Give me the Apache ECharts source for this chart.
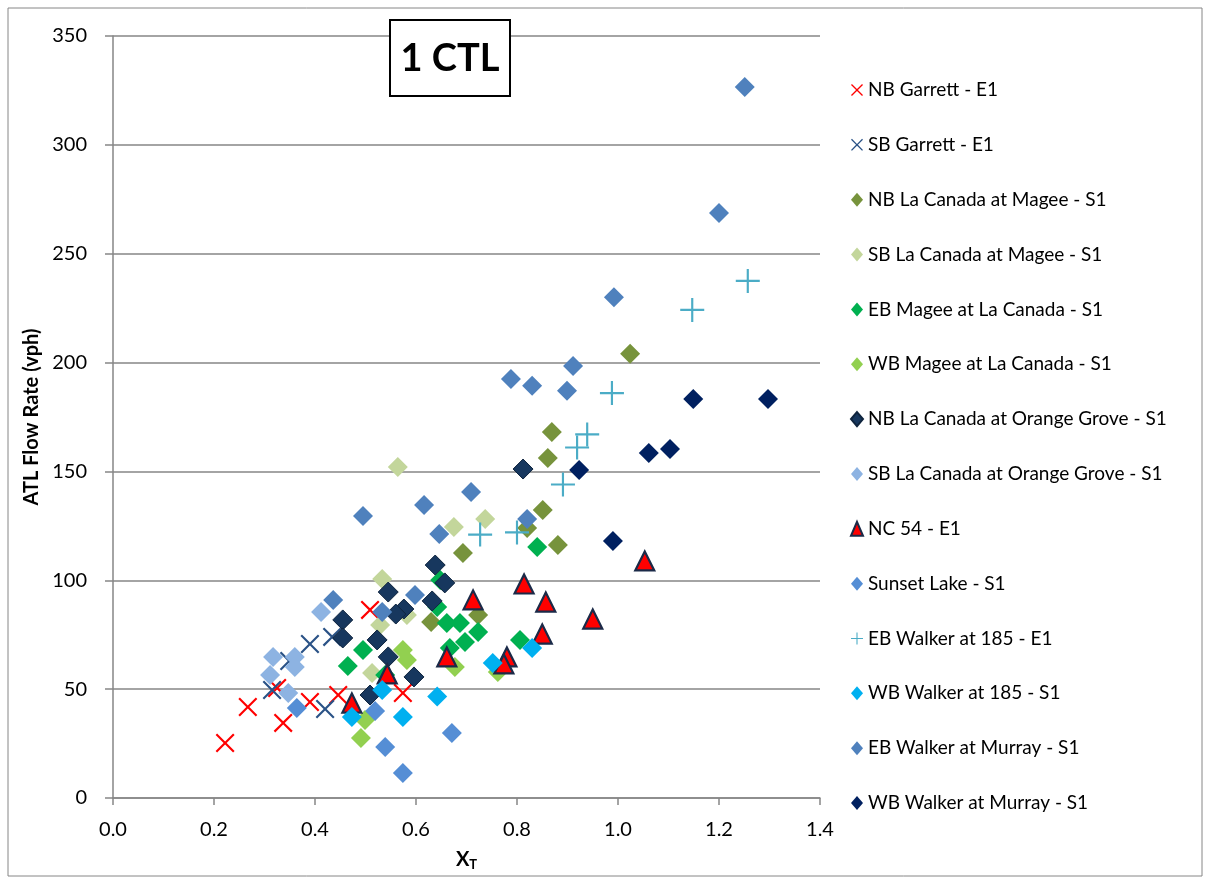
<!DOCTYPE html>
<html>
<head>
<meta charset="utf-8">
<script src="https://cdn.jsdelivr.net/npm/echarts@6/dist/echarts.min.js"></script>
<style>
html,body{margin:0;padding:0;background:#fff;}
#chart{width:1209px;height:882px;}
</style>
</head>
<body>
<div id="chart"></div>
<script>
// ---- Data (x = X_T, y = ATL Flow Rate vph) ----
const nbGarrett = [[0.222,25.3],[0.267,41.8],[0.337,34.5],[0.390,44.1],[0.446,47.3],[0.509,86.4],[0.574,48.2],[0.325,50.5]];
const sbGarrett = [[0.390,70.7],[0.434,74.0],[0.315,49.6],[0.349,62.9],[0.420,40.9]];
const nbLaCanadaMagee = [[1.024,204],[0.869,168.1],[0.861,156.2],[0.851,132.3],[0.881,116.2],[0.820,124.0],[0.693,112.5],[0.723,84.1],[0.630,80.8]];
const sbLaCanadaMagee = [[0.564,152.0],[0.737,128.2],[0.675,124.5],[0.533,100.6],[0.582,84.1],[0.529,79.5],[0.513,57.4]];
const ebMageeLaCanada = [[0.840,115.3],[0.661,80.4],[0.687,80.4],[0.723,76.3],[0.697,71.7],[0.667,68.9],[0.495,68.0],[0.465,60.6],[0.642,87.7],[0.648,100.1],[0.806,72.6],[0.539,56.5]];
const wbMageeLaCanada = [[0.574,68.0],[0.582,63.4],[0.677,60.2],[0.499,35.8],[0.491,27.6],[0.762,57.9]];
const nbLaCanadaOrangeGrove = [[0.638,107.0],[0.657,98.8],[0.545,94.6],[0.632,90.5],[0.576,86.8],[0.560,84.5],[0.455,81.8],[0.455,73.5],[0.523,72.6],[0.545,64.8],[0.596,55.6],[0.509,47.3],[0.812,151.1]];
const sbLaCanadaOrangeGrove = [[0.412,85.4],[0.317,64.8],[0.360,64.8],[0.360,60.2],[0.311,56.5],[0.347,48.2]];
const nc54 = [[1.053,108.9],[0.713,91.0],[0.814,98.3],[0.857,90.0],[0.950,82.2],[0.850,75.3],[0.780,64.8],[0.774,61.6],[0.661,64.8],[0.543,57.0],[0.473,43.6]];
const sunsetLake = [[0.364,41.3],[0.539,23.4],[0.574,11.5],[0.519,40.0],[0.671,29.9]];
const ebWalker185 = [[0.988,186],[0.939,167],[0.919,161],[0.891,144],[0.800,122],[0.727,121],[1.147,224.2],[1.257,237.5]];
const wbWalker185 = [[0.830,68.9],[0.752,62.0],[0.642,46.6],[0.533,49.6],[0.574,37.2],[0.473,37.2]];
const ebWalkerMurray = [[0.436,91.0],[0.533,85.4],[0.598,93.2],[0.495,129.5],[0.616,134.6],[0.646,121.3],[0.709,140.6],[0.820,128.2],[0.788,192.5],[0.830,189.3],[0.899,187.0],[0.911,198.4],[0.992,230.0],[1.200,268.7],[1.251,326.6]];
const wbWalkerMurray = [[1.149,183.3],[1.297,183.3],[1.061,158.5],[1.103,160.3],[0.923,150.7],[0.990,118.0]];

const seriesNames = ['NB Garrett - E1','SB Garrett - E1','NB La Canada at Magee - S1','SB La Canada at Magee - S1','EB Magee at La Canada - S1','WB Magee at La Canada - S1','NB La Canada at Orange Grove - S1','SB La Canada at Orange Grove - S1','NC 54 - E1','Sunset Lake - S1','EB Walker at 185 - E1','WB Walker at 185 - S1','EB Walker at Murray - S1','WB Walker at Murray - S1'];
const xTicks = {min:0, max:1.4, interval:0.2};
const yTicks = {min:0, max:350, interval:50};
const chartTitle = '1 CTL';

const X_PATH = 'path://M0,0.8 L0.8,0 L5,4.2 L9.2,0 L10,0.8 L5.8,5 L10,9.2 L9.2,10 L5,5.8 L0.8,10 L0,9.2 L4.2,5 Z';
const PLUS_PATH = 'path://M4.55,0 H5.45 V4.55 H10 V5.45 H5.45 V10 H4.55 V5.45 H0 V4.55 H4.55 Z';

const styles = [
  {data:nbGarrett, symbol:X_PATH, size:19, color:'#ff0000'},
  {data:sbGarrett, symbol:X_PATH, size:19, color:'#2a5286'},
  {data:nbLaCanadaMagee, symbol:'diamond', size:20, color:'#77933c'},
  {data:sbLaCanadaMagee, symbol:'diamond', size:20, color:'#c3d69b'},
  {data:ebMageeLaCanada, symbol:'diamond', size:20, color:'#00b050'},
  {data:wbMageeLaCanada, symbol:'diamond', size:20, color:'#92d050'},
  {data:nbLaCanadaOrangeGrove, symbol:'diamond', size:20, color:'#17375e', border:'#0f243e', bw:1},
  {data:sbLaCanadaOrangeGrove, symbol:'diamond', size:20, color:'#8db3e2'},
  {data:nc54, symbol:'triangle', size:19, color:'#ff0000', border:'#1b2a48', bw:2.2},
  {data:sunsetLake, symbol:'diamond', size:20, color:'#558ed5'},
  {data:ebWalker185, symbol:PLUS_PATH, size:24, color:'#4bacc6'},
  {data:wbWalker185, symbol:'diamond', size:20, color:'#00b0f0'},
  {data:ebWalkerMurray, symbol:'diamond', size:20, color:'#4f81bd'},
  {data:wbWalkerMurray, symbol:'diamond', size:20, color:'#002060'}
];

const FONT = 'Lato';
const chart = echarts.init(document.getElementById('chart'), null, {renderer:'canvas'});

const series = styles.map((s,i)=>({
  name: seriesNames[i],
  type: 'scatter',
  data: s.data,
  symbol: s.symbol,
  symbolSize: s.size,
  itemStyle: {color: s.color, opacity:1, borderColor: s.border || s.color, borderWidth: s.bw || 0},
  emphasis: {disabled:true},
  z: 2 + i
}));

chart.setOption({
  animation: false,
  backgroundColor: '#fff',
  grid: {left:113, right:1209-820, top:36, bottom:882-798, containLabel:false},
  xAxis: {
    type:'value', min:xTicks.min, max:xTicks.max, interval:xTicks.interval,
    axisLine:{show:true, lineStyle:{color:'#868686', width:1.5}},
    axisTick:{show:true, inside:false, length:7, lineStyle:{color:'#868686', width:1.5}},
    splitLine:{show:false},
    axisLabel:{fontFamily:FONT, fontSize:20, color:'#000', margin:22, formatter:v=>v.toFixed(1)},
    name:'{b|X}{s|T}', nameLocation:'middle', nameGap:50,
    nameTextStyle:{rich:{b:{fontFamily:FONT, fontWeight:'bold', fontSize:20, color:'#000'}, s:{fontFamily:FONT, fontWeight:'bold', fontSize:13, color:'#000', verticalAlign:'bottom', padding:[10,0,0,0]}}}
  },
  yAxis: {
    type:'value', min:yTicks.min, max:yTicks.max, interval:yTicks.interval,
    axisLine:{show:true, lineStyle:{color:'#868686', width:1.5}},
    axisTick:{show:true, inside:false, length:8, lineStyle:{color:'#868686', width:1.5}},
    splitLine:{show:true, lineStyle:{color:'#868686', width:1.5}},
    axisLabel:{fontFamily:FONT, fontSize:20, color:'#000', margin:26},
    name:'ATL Flow Rate (vph)', nameLocation:'middle', nameGap:71,
    nameTextStyle:{fontFamily:FONT, fontWeight:'bold', fontSize:20, color:'#000'}
  },
  legend: {
    orient:'vertical', left:850, top:80.5, padding:0,
    itemWidth:12, itemHeight:14, itemGap:35.85,
    textStyle:{fontFamily:FONT, fontSize:19, color:'#000', lineHeight:14},
    selectedMode:false,
    data: seriesNames
  },
  graphic: [
    {type:'rect', z:-10, silent:true, shape:{x:8, y:8, width:1194, height:868}, style:{fill:'none', stroke:'#868686', lineWidth:1}},
    {type:'rect', z:100, silent:true, shape:{x:390, y:20, width:120, height:76}, style:{fill:'#fff', stroke:'#000', lineWidth:2}},
    {type:'text', z:101, silent:true, x:450, y:59, style:{text:chartTitle, align:'center', verticalAlign:'middle', font:'bold 38px Lato', fill:'#000'}}
  ],
  series: series
});
</script>
</body>
</html>
